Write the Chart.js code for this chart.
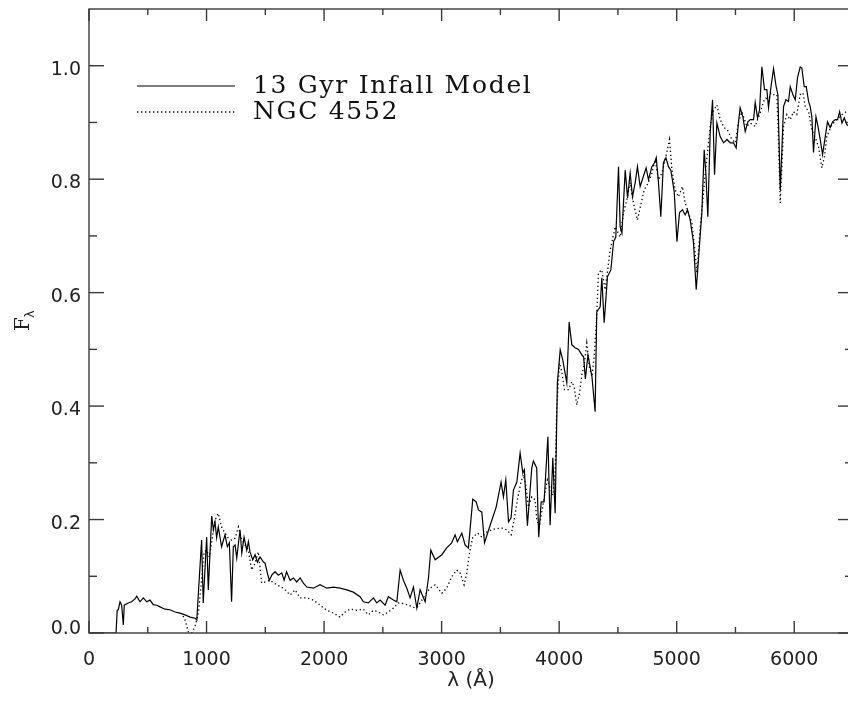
<!DOCTYPE html>
<html>
<head>
<meta charset="utf-8">
<script src="https://cdn.jsdelivr.net/npm/chart.js@4.4.1/dist/chart.umd.min.js"></script>
<style>
  html, body { margin: 0; padding: 0; background: #fff; overflow: hidden; }
  #wrap { width: 860px; height: 702px; }
</style>
</head>
<body>
<div id="wrap"><canvas id="spec" width="860" height="702"></canvas></div>
<script>
// 13 Gyr infall model (solid)
const modelWave = [0, 230, 240, 249, 264, 278, 292, 300, 334, 363, 391, 406, 434, 462, 491, 519, 547, 576, 604, 647, 689, 732, 774, 817, 860, 902, 917,
  958, 972, 1001, 1015, 1044, 1058, 1072, 1086, 1100, 1128, 1157, 1177, 1194, 1213, 1228, 1243, 1257, 1285, 1300, 1319, 1342, 1356, 1370, 1393,
  1413, 1433, 1455, 1484, 1498, 1517, 1534, 1555, 1583, 1611, 1640, 1660, 1681, 1711, 1739, 1767, 1796, 1824, 1853, 1909, 1966, 2023, 2080, 2136,
  2193, 2249, 2306, 2334, 2377, 2420, 2448, 2477, 2519, 2547, 2590, 2619, 2647, 2675, 2704, 2732, 2760, 2789, 2817, 2860, 2888, 2908, 2945, 3002,
  3043, 3086, 3115, 3134, 3172, 3200, 3228, 3265, 3294, 3313, 3342, 3365, 3413, 3464, 3506, 3526, 3546, 3569, 3591, 3611, 3640, 3668, 3691, 3704,
  3730, 3767, 3781, 3809, 3826, 3847, 3872, 3904, 3923, 3946, 3966, 3985, 4009, 4031, 4065, 4085, 4108, 4136, 4165, 4194, 4208, 4223, 4245, 4279,
  4306, 4320, 4349, 4363, 4383, 4411, 4440, 4463, 4482, 4505, 4519, 4534, 4562, 4582, 4604, 4624, 4647, 4666, 4689, 4712, 4740, 4760, 4789, 4811,
  4826, 4845, 4865, 4887, 4908, 4930, 4950, 4979, 5002, 5024, 5049, 5072, 5092, 5115, 5143, 5166, 5185, 5214, 5234, 5248, 5265, 5285, 5305, 5322,
  5342, 5370, 5399, 5428, 5455, 5484, 5506, 5526, 5540, 5563, 5583, 5606, 5626, 5654, 5668, 5688, 5705, 5725, 5747, 5767, 5781, 5801, 5824, 5846,
  5861, 5881, 5895, 5909, 5929, 5951, 5966, 5989, 6009, 6028, 6051, 6065, 6085, 6102, 6122, 6136, 6150, 6164, 6185, 6202, 6221, 6241, 6264, 6283,
  6306, 6326, 6349, 6369, 6386, 6406, 6426, 6448, 6500];
const modelFlux = [0, 0, 0.040, 0.041, 0.055, 0.049, 0.014, 0.049, 0.053, 0.055, 0.060, 0.065, 0.055, 0.062, 0.055, 0.058, 0.050, 0.049, 0.046, 0.042, 0.041, 0.037, 0.035, 0.032, 0.028, 0.026, 0.023,
  0.164, 0.053, 0.169, 0.076, 0.206, 0.182, 0.196, 0.168, 0.187, 0.152, 0.173, 0.152, 0.159, 0.055, 0.152, 0.155, 0.132, 0.182, 0.141, 0.169, 0.146, 0.161, 0.143, 0.129,
  0.138, 0.125, 0.134, 0.125, 0.123, 0.106, 0.093, 0.102, 0.108, 0.102, 0.106, 0.093, 0.108, 0.093, 0.097, 0.090, 0.097, 0.088, 0.081, 0.079, 0.085, 0.079, 0.081, 0.079,
  0.076, 0.072, 0.064, 0.055, 0.053, 0.062, 0.053, 0.058, 0.049, 0.064, 0.058, 0.055, 0.111, 0.093, 0.079, 0.062, 0.081, 0.044, 0.076, 0.055, 0.097, 0.146, 0.129, 0.138,
  0.150, 0.159, 0.173, 0.161, 0.176, 0.155, 0.150, 0.236, 0.231, 0.217, 0.213, 0.159, 0.190, 0.222, 0.266, 0.240, 0.270, 0.196, 0.203, 0.252, 0.266, 0.317, 0.282, 0.288,
  0.189, 0.291, 0.303, 0.291, 0.169, 0.231, 0.231, 0.346, 0.190, 0.309, 0.211, 0.441, 0.499, 0.481, 0.441, 0.548, 0.508, 0.503, 0.500, 0.490, 0.487, 0.448, 0.490, 0.452,
  0.390, 0.566, 0.575, 0.626, 0.547, 0.628, 0.640, 0.690, 0.698, 0.822, 0.716, 0.705, 0.816, 0.767, 0.811, 0.769, 0.794, 0.822, 0.787, 0.802, 0.820, 0.799, 0.822, 0.829,
  0.838, 0.794, 0.734, 0.829, 0.838, 0.822, 0.816, 0.778, 0.690, 0.741, 0.746, 0.737, 0.746, 0.728, 0.688, 0.605, 0.658, 0.741, 0.852, 0.811, 0.734, 0.882, 0.940, 0.808,
  0.899, 0.875, 0.864, 0.870, 0.864, 0.864, 0.855, 0.901, 0.926, 0.910, 0.884, 0.901, 0.905, 0.905, 0.935, 0.908, 0.922, 0.998, 0.958, 0.958, 0.926, 0.961, 0.995, 0.963,
  0.949, 0.781, 0.852, 0.928, 0.940, 0.937, 0.963, 0.949, 0.940, 0.979, 0.998, 0.996, 0.963, 0.963, 0.937, 0.928, 0.910, 0.847, 0.910, 0.893, 0.870, 0.843, 0.875, 0.901,
  0.891, 0.901, 0.905, 0.905, 0.919, 0.899, 0.908, 0.896, 0.890];

// NGC 4552 (dotted)
const galWave = [800, 817, 845, 873, 902, 930, 958, 979, 1001, 1024, 1044, 1072, 1100, 1128, 1157, 1185, 1213, 1243, 1271, 1300, 1328, 1356, 1384, 1413,
  1441, 1469, 1498, 1540, 1597, 1654, 1711, 1753, 1796, 1853, 1909, 1966, 2023, 2080, 2136, 2179, 2221, 2278, 2334, 2377, 2420, 2462, 2505, 2547,
  2590, 2632, 2675, 2732, 2774, 2794, 2817, 2860, 2902, 2945, 3002, 3043, 3086, 3128, 3157, 3191, 3214, 3237, 3265, 3307, 3342, 3384, 3441, 3512,
  3555, 3591, 3617, 3645, 3674, 3696, 3719, 3738, 3767, 3796, 3809, 3830, 3852, 3881, 3900, 3923, 3946, 3966, 3980, 4003, 4023, 4045, 4080, 4108,
  4128, 4150, 4173, 4193, 4213, 4235, 4257, 4279, 4298, 4320, 4334, 4363, 4391, 4434, 4477, 4519, 4547, 4576, 4604, 4632, 4666, 4695, 4723, 4760,
  4789, 4817, 4845, 4874, 4902, 4939, 4959, 4987, 5015, 5049, 5072, 5101, 5129, 5157, 5172, 5200, 5223, 5243, 5265, 5285, 5308, 5342, 5370, 5404,
  5432, 5469, 5498, 5526, 5555, 5596, 5626, 5668, 5688, 5711, 5739, 5759, 5781, 5801, 5824, 5852, 5866, 5881, 5895, 5909, 5937, 5966, 5994, 6022,
  6051, 6074, 6094, 6122, 6150, 6179, 6207, 6235, 6257, 6277, 6320, 6362, 6406, 6443, 6500];
const galFlux = [0.030, 0.023, 0.002, 0.000, 0.011, 0.035, 0.093, 0.143, 0.146, 0.134, 0.161, 0.199, 0.211, 0.187, 0.176, 0.167, 0.164, 0.167, 0.187, 0.164, 0.155, 0.146, 0.111, 0.123,
  0.143, 0.088, 0.090, 0.093, 0.085, 0.079, 0.067, 0.076, 0.062, 0.062, 0.058, 0.049, 0.040, 0.035, 0.028, 0.037, 0.042, 0.040, 0.042, 0.032, 0.040, 0.037, 0.032, 0.037,
  0.044, 0.053, 0.052, 0.048, 0.044, 0.046, 0.053, 0.067, 0.079, 0.085, 0.070, 0.079, 0.099, 0.111, 0.106, 0.085, 0.106, 0.141, 0.169, 0.176, 0.169, 0.178, 0.183, 0.185,
  0.182, 0.173, 0.199, 0.235, 0.265, 0.279, 0.257, 0.222, 0.240, 0.235, 0.200, 0.187, 0.213, 0.249, 0.270, 0.256, 0.243, 0.282, 0.399, 0.476, 0.460, 0.429, 0.429, 0.443,
  0.434, 0.402, 0.423, 0.455, 0.473, 0.511, 0.469, 0.452, 0.487, 0.560, 0.635, 0.640, 0.605, 0.675, 0.716, 0.698, 0.740, 0.764, 0.794, 0.758, 0.728, 0.755, 0.781, 0.794,
  0.811, 0.834, 0.799, 0.811, 0.834, 0.870, 0.817, 0.781, 0.769, 0.787, 0.758, 0.740, 0.723, 0.670, 0.635, 0.716, 0.764, 0.811, 0.852, 0.893, 0.919, 0.931, 0.905, 0.891,
  0.887, 0.870, 0.864, 0.901, 0.919, 0.893, 0.899, 0.893, 0.905, 0.917, 0.937, 0.943, 0.937, 0.952, 0.949, 0.949, 0.870, 0.758, 0.822, 0.893, 0.914, 0.905, 0.919, 0.914,
  0.949, 0.952, 0.928, 0.919, 0.887, 0.873, 0.857, 0.820, 0.840, 0.875, 0.896, 0.905, 0.914, 0.919, 0.920];

const seriesNames = ['13 Gyr Infall Model', 'NGC 4552'];
const xMajor = [0, 1000, 2000, 3000, 4000, 5000, 6000];
const xMinor = [500, 1500, 2500, 3500, 4500, 5500, 6500];
const xTickLabels = ['0', '1000', '2000', '3000', '4000', '5000', '6000'];
const yMajor = [0, 0.2, 0.4, 0.6, 0.8, 1.0];
const yMinor = [0.1, 0.3, 0.5, 0.7, 0.9];
const yTickLabels = ['0.0', '0.2', '0.4', '0.6', '0.8', '1.0'];

const toPoints = (xs, ys) => xs.map((x, i) => ({ x: x, y: ys[i] }));

// frame, inward ticks, tick labels, axis titles and the legend box
const idlFrame = {
  id: 'idlFrame',
  afterDraw(chart) {
    const { ctx, chartArea: a, scales: { x, y } } = chart;
    const seg = (x1, y1, x2, y2) => { ctx.beginPath(); ctx.moveTo(x1, y1); ctx.lineTo(x2, y2); ctx.stroke(); };
    ctx.save();
    ctx.strokeStyle = '#3a3a3a';
    ctx.lineWidth = 1.4;
    ctx.strokeRect(a.left, a.top, a.right - a.left, a.bottom - a.top);

    xMajor.forEach(v => { const p = x.getPixelForValue(v); seg(p, a.bottom, p, a.bottom - 12); seg(p, a.top, p, a.top + 12); });
    xMinor.forEach(v => { const p = x.getPixelForValue(v); seg(p, a.bottom, p, a.bottom - 6); seg(p, a.top, p, a.top + 6); });
    yMajor.forEach(v => { const p = y.getPixelForValue(v); seg(a.left, p, a.left + 15, p); seg(a.right, p, a.right - 15, p); });
    yMinor.forEach(v => { const p = y.getPixelForValue(v); seg(a.left, p, a.left + 8, p); seg(a.right, p, a.right - 8, p); });

    ctx.fillStyle = '#222';
    ctx.font = '19px "DejaVu Sans"';
    ctx.textBaseline = 'alphabetic';
    ctx.textAlign = 'center';
    xMajor.forEach((v, i) => ctx.fillText(xTickLabels[i], x.getPixelForValue(v), a.bottom + 32));
    ctx.textAlign = 'right';
    yMajor.forEach((v, i) => ctx.fillText(yTickLabels[i], a.left - 8, Math.min(y.getPixelForValue(v) + 9, a.bottom + 1)));

    // x title
    ctx.textAlign = 'center';
    ctx.font = '20px "DejaVu Sans"';
    ctx.fillText('λ (Å)', (a.left + a.right) / 2, a.bottom + 53);

    // y title, F with subscript lambda, rotated
    ctx.save();
    ctx.translate(29, 331);
    ctx.rotate(-Math.PI / 2);
    ctx.textAlign = 'left';
    ctx.font = '20px "DejaVu Serif"';
    ctx.fillText('F', 0, 0);
    ctx.font = '13px "DejaVu Sans"';
    ctx.fillText('λ', 13, 5);
    ctx.restore();

    // legend
    ctx.strokeStyle = '#000';
    ctx.lineWidth = 1.2;
    seg(137, 86, 235, 86);
    ctx.lineWidth = 1.3;
    ctx.setLineDash([1.3, 2.7]);
    seg(137, 112, 235, 112);
    ctx.setLineDash([]);
    ctx.fillStyle = '#111';
    ctx.textAlign = 'left';
    ctx.font = '25px "DejaVu Serif"';
    ctx.letterSpacing = '1.7px';
    ctx.fillText(seriesNames[0], 253, 93);
    ctx.fillText(seriesNames[1], 253, 119);
    ctx.restore();
  }
};

new Chart(document.getElementById('spec'), {
  type: 'line',
  data: {
    datasets: [
      {
        label: seriesNames[0],
        data: toPoints(modelWave, modelFlux),
        borderColor: '#000',
        borderWidth: 1.2,
        pointRadius: 0,
        tension: 0
      },
      {
        label: seriesNames[1],
        data: toPoints(galWave, galFlux),
        borderColor: '#000',
        borderWidth: 1.3,
        borderDash: [1.3, 2.7],
        pointRadius: 0,
        tension: 0
      }
    ]
  },
  options: {
    responsive: false,
    animation: false,
    devicePixelRatio: 1,
    layout: { padding: { top: 9, right: 7, left: 0, bottom: 0 } },
    plugins: { legend: { display: false }, tooltip: { enabled: false } },
    scales: {
      x: {
        type: 'linear',
        min: 0,
        max: 6500,
        grid: { display: false, drawTicks: false },
        border: { display: false },
        ticks: { display: false },
        afterFit: s => { s.height = 69; }
      },
      y: {
        type: 'linear',
        min: 0,
        max: 1.1,
        grid: { display: false, drawTicks: false },
        border: { display: false },
        ticks: { display: false },
        afterFit: s => { s.width = 89; }
      }
    }
  },
  plugins: [idlFrame]
});
</script>
</body>
</html>
